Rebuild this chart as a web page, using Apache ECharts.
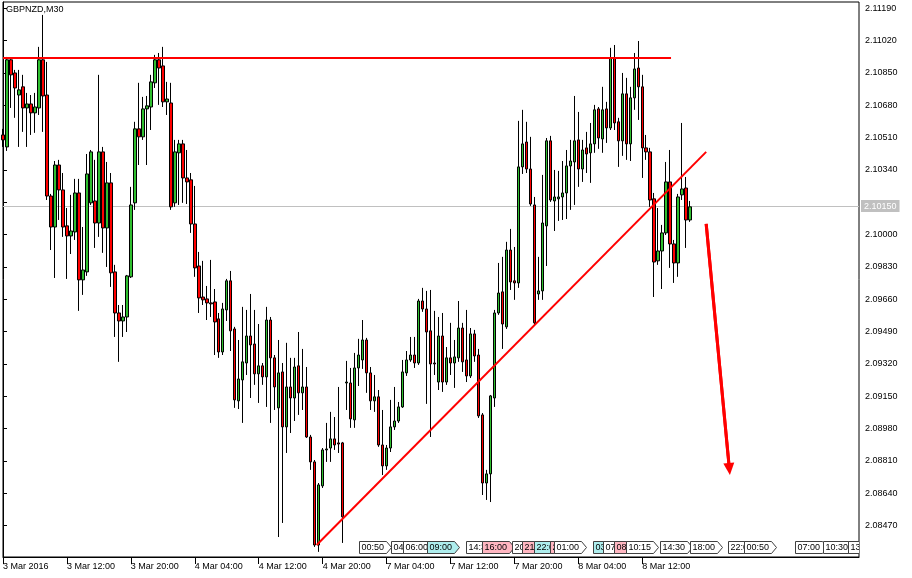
<!DOCTYPE html>
<html><head><meta charset="utf-8">
<script src="https://cdn.jsdelivr.net/npm/echarts@6/dist/echarts.min.js"></script>
<style>html,body{margin:0;padding:0;background:#fff}#c{width:912px;height:578px}</style>
</head><body><div id="c"></div><script>
const symbolTitle = 'GBPNZD,M30';

const open = [
2.10524, 2.10461, 2.10919, 2.10850, 2.10734, 2.10777, 2.10666, 2.10687, 2.10640, 2.10666,
2.10919, 2.10734, 2.10203, 2.10040, 2.10366, 2.10235, 2.10046, 2.09993, 2.10014, 2.10219,
2.09762, 2.09804, 2.10167, 2.10177, 2.10061, 2.10435, 2.10035, 2.10272, 2.09804, 2.09588,
2.09546, 2.09567, 2.09778, 2.10167, 2.10556, 2.10514, 2.10661, 2.10671, 2.10798, 2.10919,
2.10887, 2.10698, 2.10692, 2.10167, 2.10430, 2.10477, 2.10298, 2.10288, 2.10056, 2.09835,
2.09672, 2.09662, 2.09641, 2.09646, 2.09557, 2.09383, 2.09604, 2.09757, 2.09504, 2.09126,
2.09236, 2.09325, 2.09467, 2.09425, 2.09268, 2.09310, 2.09252, 2.09551, 2.09352, 2.09089,
2.09278, 2.08989, 2.09199, 2.09141, 2.09310, 2.09168, 2.09199, 2.08936, 2.08805, 2.08368,
2.08679, 2.08868, 2.08878, 2.08926, 2.08905, 2.08905, 2.09220, 2.09220, 2.09026, 2.09299,
2.09341, 2.09446, 2.09273, 2.09126, 2.09147, 2.08894, 2.08784, 2.08878, 2.08989, 2.09020,
2.09094, 2.09273, 2.09341, 2.09367, 2.09325, 2.09651, 2.09609, 2.09494, 2.09325, 2.09225,
2.09467, 2.09225, 2.09352, 2.09325, 2.09352, 2.09509, 2.09341, 2.09257, 2.09478, 2.09367,
2.09052, 2.08694, 2.08742, 2.09141, 2.09588, 2.09699, 2.09515, 2.09919, 2.09757, 2.09746,
2.10356, 2.10487, 2.10345, 2.10156, 2.09688, 2.09704, 2.10046, 2.10493, 2.10177, 2.10188,
2.10198, 2.10219, 2.10361, 2.10382, 2.10498, 2.10345, 2.10456, 2.10430, 2.10477, 2.10661,
2.10503, 2.10661, 2.10561, 2.10929, 2.10593, 2.10493, 2.10740, 2.10477, 2.10719, 2.10876,
2.10777, 2.10456, 2.10435, 2.10188, 2.09862, 2.09914, 2.10009, 2.10277, 2.09951, 2.09851,
2.10209, 2.10245, 2.10077
];
const close = [
2.10498, 2.10919, 2.10840, 2.10771, 2.10761, 2.10666, 2.10687, 2.10640, 2.10671, 2.10919,
2.10729, 2.10203, 2.10040, 2.10366, 2.10235, 2.10040, 2.09993, 2.10019, 2.10219, 2.09762,
2.09814, 2.10319, 2.10435, 2.10061, 2.10435, 2.10035, 2.10272, 2.09799, 2.09588, 2.09546,
2.09567, 2.09783, 2.10156, 2.10556, 2.10514, 2.10661, 2.10677, 2.10803, 2.10919, 2.10876,
2.10698, 2.10713, 2.10146, 2.10435, 2.10477, 2.10298, 2.10277, 2.10056, 2.09825, 2.09667,
2.09657, 2.09641, 2.09636, 2.09541, 2.09383, 2.09609, 2.09757, 2.09494, 2.09131, 2.09241,
2.09331, 2.09467, 2.09420, 2.09268, 2.09310, 2.09252, 2.09551, 2.09352, 2.09199, 2.09273,
2.08989, 2.09199, 2.09141, 2.09304, 2.09168, 2.09199, 2.08936, 2.08805, 2.08368, 2.08684,
2.08868, 2.08873, 2.08926, 2.08894, 2.08899, 2.08516, 2.09225, 2.09031, 2.09299, 2.09367,
2.09446, 2.09273, 2.09126, 2.09147, 2.08894, 2.08784, 2.08878, 2.08989, 2.09020, 2.09094,
2.09278, 2.09341, 2.09367, 2.09325, 2.09651, 2.09609, 2.09488, 2.09320, 2.09320, 2.09467,
2.09225, 2.09352, 2.09325, 2.09357, 2.09509, 2.09331, 2.09257, 2.09478, 2.09362, 2.09047,
2.08694, 2.08742, 2.09152, 2.09588, 2.09693, 2.09530, 2.09919, 2.09751, 2.09746, 2.10356,
2.10477, 2.10345, 2.10161, 2.09536, 2.09704, 2.10061, 2.10493, 2.10182, 2.10198, 2.10198,
2.10219, 2.10361, 2.10387, 2.10493, 2.10345, 2.10445, 2.10424, 2.10477, 2.10656, 2.10508,
2.10656, 2.10561, 2.10929, 2.10587, 2.10493, 2.10740, 2.10477, 2.10719, 2.10871, 2.10777,
2.10456, 2.10435, 2.10182, 2.09856, 2.09914, 2.10009, 2.10277, 2.09951, 2.09851, 2.10198,
2.10240, 2.10077, 2.10146
];
const high = [
2.10556, 2.10934, 2.10929, 2.10866, 2.10866, 2.10840, 2.10745, 2.10734, 2.10745, 2.10987,
2.11155, 2.10908, 2.10214, 2.10387, 2.10393, 2.10324, 2.10140, 2.10209, 2.10293, 2.10293,
2.10040, 2.10424, 2.10445, 2.10393, 2.10840, 2.10461, 2.10382, 2.10324, 2.09841, 2.09630,
2.09630, 2.09788, 2.10251, 2.10593, 2.10798, 2.10724, 2.10729, 2.10840, 2.10945, 2.10955,
2.10987, 2.10803, 2.10798, 2.10498, 2.10498, 2.10498, 2.10445, 2.10324, 2.10256, 2.09909,
2.09862, 2.09730, 2.09867, 2.09714, 2.09588, 2.09641, 2.09767, 2.09809, 2.09515, 2.09446,
2.09620, 2.09604, 2.09688, 2.09604, 2.09530, 2.09325, 2.09620, 2.09567, 2.09367, 2.09446,
2.09325, 2.09431, 2.09352, 2.09352, 2.09488, 2.09399, 2.09304, 2.08947, 2.08815, 2.08694,
2.08878, 2.09010, 2.09068, 2.09041, 2.09199, 2.08910, 2.09336, 2.09299, 2.09378, 2.09452,
2.09551, 2.09457, 2.09304, 2.09262, 2.09183, 2.09078, 2.08894, 2.09131, 2.09199, 2.09120,
2.09341, 2.09388, 2.09462, 2.09462, 2.09662, 2.09720, 2.09704, 2.09709, 2.09599, 2.09567,
2.09588, 2.09409, 2.09536, 2.09446, 2.09651, 2.09536, 2.09604, 2.09509, 2.09499, 2.09399,
2.09062, 2.08763, 2.09157, 2.09604, 2.09851, 2.09883, 2.09962, 2.10030, 2.09935, 2.10598,
2.10656, 2.10593, 2.10514, 2.10198, 2.09883, 2.10314, 2.10508, 2.10519, 2.10340, 2.10335,
2.10387, 2.10445, 2.10498, 2.10729, 2.10645, 2.10498, 2.10540, 2.10587, 2.10682, 2.10671,
2.10777, 2.10698, 2.10982, 2.10997, 2.10614, 2.10850, 2.10824, 2.10777, 2.10955, 2.11018,
2.10840, 2.10524, 2.10456, 2.10219, 2.10140, 2.10051, 2.10382, 2.10445, 2.09972, 2.10214,
2.10587, 2.10303, 2.10177
];
const low = [
2.10461, 2.10440, 2.10666, 2.10614, 2.10461, 2.10540, 2.10461, 2.10524, 2.10535, 2.10629,
2.10540, 2.10182, 2.09919, 2.09772, 2.10077, 2.09988, 2.09767, 2.09898, 2.09972, 2.09599,
2.09683, 2.09783, 2.10156, 2.09930, 2.09988, 2.09904, 2.09830, 2.09725, 2.09462, 2.09331,
2.09462, 2.09488, 2.09772, 2.10130, 2.10366, 2.10498, 2.10366, 2.10550, 2.10771, 2.10682,
2.10671, 2.10629, 2.10130, 2.10146, 2.10156, 2.10167, 2.10161, 2.10009, 2.09778, 2.09588,
2.09630, 2.09551, 2.09567, 2.09367, 2.09352, 2.09367, 2.09546, 2.09388, 2.09089, 2.09083,
2.09010, 2.09262, 2.09141, 2.09210, 2.09115, 2.09210, 2.09094, 2.09010, 2.09078, 2.08410,
2.08484, 2.08852, 2.08957, 2.09020, 2.09052, 2.09078, 2.08931, 2.08763, 2.08358, 2.08332,
2.08668, 2.08805, 2.08805, 2.08868, 2.08852, 2.08379, 2.09078, 2.08984, 2.08984, 2.09204,
2.09294, 2.09168, 2.09078, 2.09068, 2.08884, 2.08736, 2.08763, 2.08857, 2.08973, 2.09010,
2.09089, 2.09257, 2.09331, 2.09299, 2.09315, 2.09594, 2.09110, 2.08936, 2.09262, 2.09183,
2.09173, 2.09210, 2.09262, 2.09194, 2.09331, 2.09278, 2.09225, 2.09246, 2.09331, 2.09036,
2.08631, 2.08605, 2.08594, 2.09094, 2.09578, 2.09399, 2.09504, 2.09709, 2.09657, 2.09720,
2.10319, 2.10324, 2.10151, 2.09525, 2.09657, 2.09657, 2.09835, 2.10172, 2.10019, 2.10072,
2.10077, 2.10082, 2.10130, 2.10156, 2.10251, 2.10277, 2.10324, 2.10272, 2.10430, 2.10451,
2.10430, 2.10482, 2.10550, 2.10550, 2.10356, 2.10414, 2.10393, 2.10387, 2.10656, 2.10603,
2.10298, 2.10393, 2.10146, 2.09672, 2.09841, 2.09714, 2.09998, 2.09825, 2.09746, 2.09778,
2.10182, 2.09930, 2.10067
];

const timeTickBars = [0, 16, 32, 48, 64, 80, 96, 112, 128, 144, 160];
const timeTickLabels = ['3 Mar 2016', '3 Mar 12:00', '3 Mar 20:00', '4 Mar 04:00', '4 Mar 12:00',
  '4 Mar 20:00', '7 Mar 04:00', '7 Mar 12:00', '7 Mar 20:00', '8 Mar 04:00', '8 Mar 12:00'];
const priceTicks = [2.11190, 2.11020, 2.10850, 2.10680, 2.10510, 2.10340, 2.10170, 2.10000,
  2.09830, 2.09660, 2.09490, 2.09320, 2.09150, 2.08980, 2.08810, 2.08640, 2.08470];
const currentPrice = 2.10150;

const resistance = [[0, 2.10929], [167.2, 2.10929]];
const trendline = [[78.5, 2.08368], [176, 2.10435]];
const arrowPath = [[176, 2.10056], [181.8, 2.08768]];

const eventBars = [89, 97, 100, 106, 116, 120, 127.5, 130, 133, 137, 138, 147.75, 150.25, 153, 156,
  164.5, 172, 181.5, 185.5, 198.25, 205.25, 211.5];
const eventLabels = ['00:50', '04:00', '06:00', '09:00', '14:30', '16:00', '20:00', '21:00', '22:00',
  '23:00', '01:00', '03:00', '07:00', '08:00', '10:15', '14:30', '18:00', '22:00', '00:50', '07:00',
  '10:30', '13:00'];
const eventImpact = ['low', 'low', 'low', 'medium', 'low', 'high', 'low', 'high', 'medium', 'high',
  'low', 'medium', 'low', 'high', 'low', 'low', 'low', 'low', 'low', 'low', 'low', 'low'];

// axis ranges
const xMin = 0, xMax = 214.25;
const yMin = 2.08305, yMax = 2.11223;

const FONT = '"Liberation Sans",Arial,sans-serif';
const FS = 9;
const impactColor = { low: '#ffffff', medium: '#aeeeee', high: '#ffb6c1' };

const candles = open.map((o, i) => [i, o, close[i], low[i], high[i]]);

const mctx = document.createElement('canvas').getContext('2d');
mctx.font = FS + 'px ' + FONT;
const textW = s => mctx.measureText(s).width;

const chart = echarts.init(document.getElementById('c'), null, { renderer: 'canvas' });
chart.setOption({
  animation: false,
  backgroundColor: '#ffffff',
  title: {
    text: symbolTitle, left: 6, top: 5, padding: 0,
    textStyle: { fontFamily: FONT, fontSize: FS, fontWeight: 'normal', color: '#000' }
  },
  grid: { left: 2, right: 53, top: 2, bottom: 21, show: true, borderColor: '#000', borderWidth: 1 },
  xAxis: {
    type: 'value', min: xMin, max: xMax,
    axisLine: { show: true, onZero: false, lineStyle: { color: '#000', width: 1 } },
    axisTick: { show: true, customValues: timeTickBars, length: 7, lineStyle: { color: '#000' } },
    axisLabel: {
      customValues: timeTickBars,
      formatter: v => timeTickLabels[timeTickBars.indexOf(v)] || '',
      align: 'left', margin: 5, color: '#000', fontFamily: FONT, fontSize: FS
    },
    splitLine: { show: false }
  },
  yAxis: {
    type: 'value', position: 'right', min: yMin, max: yMax, scale: true,
    axisLine: { show: true, lineStyle: { color: '#000', width: 1 } },
    axisTick: { show: true, inside: false, customValues: priceTicks, length: 4, lineStyle: { color: '#000' } },
    axisLabel: {
      customValues: priceTicks.filter(v => Math.abs(v - currentPrice) > 0.0004),
      formatter: v => v.toFixed(5),
      margin: 6, color: '#000', fontFamily: FONT, fontSize: FS
    },
    splitLine: { show: false }
  },
  series: [
    {
      type: 'candlestick', data: candles, barWidth: 3, z: 3,
      itemStyle: {
        color: '#2fbf2f', color0: '#ff0000',
        borderColor: '#000', borderColor0: '#000', borderColorDoji: '#000', borderWidth: 1
      },
      markLine: {
        silent: true, symbol: ['none', 'none'], animation: false, precision: 5,
        data: [{ yAxis: currentPrice }],
        lineStyle: { color: '#c0c0c0', width: 1, type: 'solid' },
        label: {
          show: true, position: 'end', distance: 2,
          formatter: () => currentPrice.toFixed(5),
          backgroundColor: '#c0c0c0', color: '#ffffff', padding: [2, 3, 1, 3],
          fontFamily: FONT, fontSize: FS
        },
        z: 1
      }
    },
    {
      type: 'line', data: resistance, showSymbol: false, silent: true, z: 4,
      lineStyle: { color: '#ff0000', width: 2 }
    },
    {
      type: 'line', data: trendline, showSymbol: false, silent: true, z: 4,
      lineStyle: { color: '#ff0000', width: 2 }
    },
    {
      type: 'line', data: arrowPath, showSymbol: false, silent: true, z: 4,
      lineStyle: { color: '#ff0000', width: 3 },
      markLine: {
        silent: true, animation: false, symbol: ['none', 'triangle'], symbolSize: [11, 12], precision: 5,
        data: [[{ coord: arrowPath[0] }, { coord: arrowPath[1] }]],
        lineStyle: { color: '#ff0000', width: 3, type: 'solid' },
        label: { show: false }
      }
    },
    {
      type: 'custom', clip: true, silent: true, z: 6,
      data: eventBars.map(b => [b]),
      encode: { x: 0 },
      renderItem: (params, api) => {
        const i = params.dataIndex;
        const p = api.coord([api.value(0), yMin]);
        const x = Math.round(p[0]) + 0.5;
        const bottom = Math.round(p[1]);
        const label = eventLabels[i];
        const w = Math.ceil(textW(label)) + 9;
        const h = 12;
        const top = bottom - 16 + 0.5;
        return {
          type: 'group',
          children: [
            {
              type: 'polygon',
              shape: { points: [[x, top], [x + w - 5, top], [x + w, top + h / 2], [x + w - 5, top + h], [x, top + h]] },
              style: { fill: impactColor[eventImpact[i]], stroke: '#404040', lineWidth: 1 }
            },
            {
              type: 'text', x: x + 2, y: top + h / 2 + 0.5,
              style: { text: label, font: FS + 'px ' + FONT, fill: '#000', verticalAlign: 'middle', align: 'left' }
            }
          ]
        };
      }
    }
  ]
});
</script></body></html>
